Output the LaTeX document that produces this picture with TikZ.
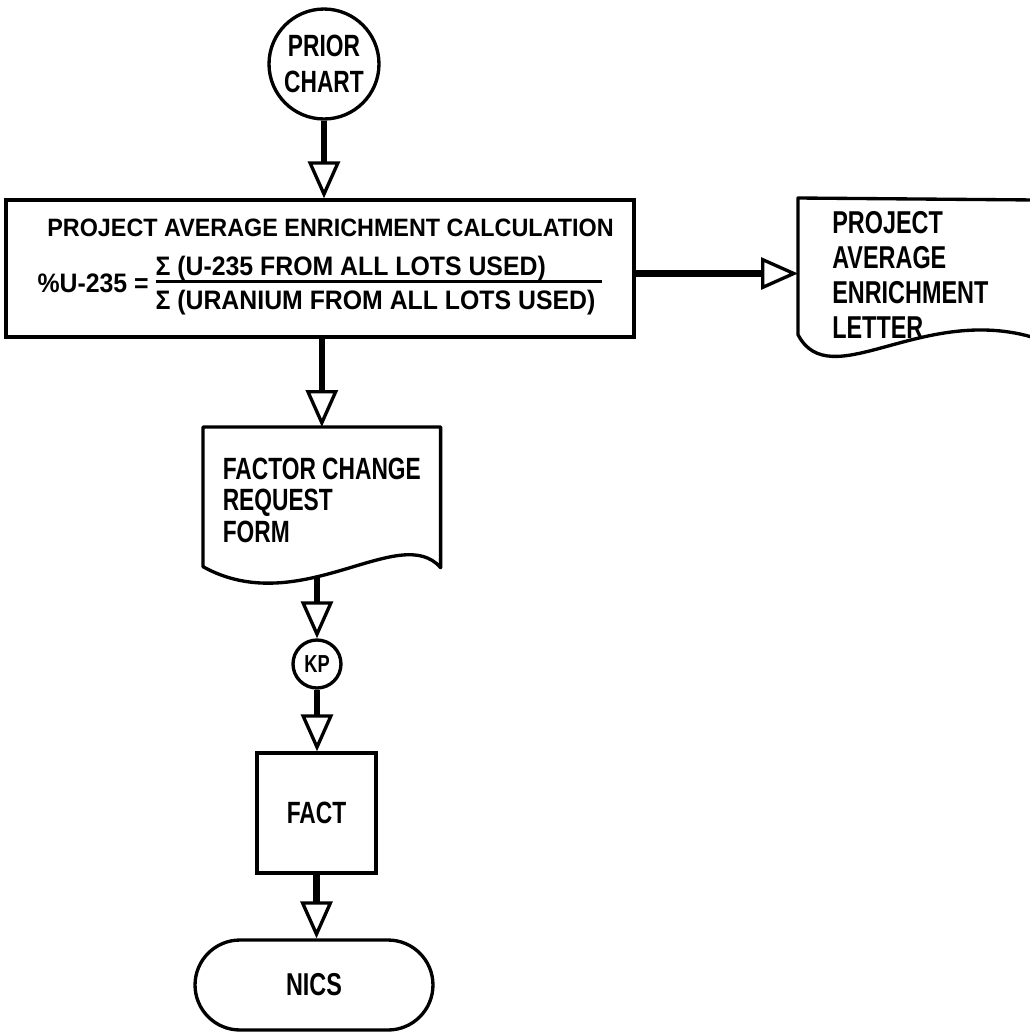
\documentclass[tikz,border=0pt]{standalone}
\usepackage{fontspec}
\setmainfont{Liberation Sans}
\newfontfamily\chartfont{Liberation Sans}[FakeStretch=0.74]
\newfontfamily\calcfont{Liberation Sans}[FakeStretch=0.93]
\usetikzlibrary{arrows.meta,calc}
\setlength{\arrayrulewidth}{1.4pt}

\begin{document}
\begin{tikzpicture}[x=0.02cm, y=-0.02cm,
  box/.style={draw, line width=1.9pt, inner sep=0pt, align=center,
    font=\chartfont\bfseries\fontsize{17.5}{20}\selectfont},
  conn/.style={circle, draw, line width=1.9pt, inner sep=0pt, align=center,
    font=\chartfont\bfseries\fontsize{17.5}{20.4}\selectfont},
  paper/.style={inner sep=0pt, align=left,
    font=\chartfont\bfseries\fontsize{17.5}{18.1}\selectfont},
  sheet/.style={line width=1.9pt, line join=round},
  flow/.style={line width=3.6pt,
    -{Triangle[open, length=0.74cm, width=0.64cm, line width=1.9pt]}}]

\useasboundingbox (0,0) rectangle (1030,1032);

% Start connector
\node[conn, minimum size=2.2cm] (prior) at (324,64) {PRIOR\\CHART};

% Calculation box
\node[box, minimum width=12.56cm, minimum height=2.74cm,
  font=\calcfont\bfseries\fontsize{14.3}{17}\selectfont] (calc) at (320,268.5)
  {\hspace{12pt}PROJECT AVERAGE ENRICHMENT CALCULATION\\[9pt]
   \fontsize{15.2}{18}\selectfont
   \%U-235 = \begin{tabular}[c]{@{}l@{\hspace{4pt}}}Σ (U-235 FROM ALL LOTS USED)\\[-3pt] \hline
   \rule{0pt}{15pt}Σ (URANIUM FROM ALL LOTS USED)\end{tabular}};

% Output documents
\node[paper, minimum width=4.64cm, minimum height=3.08cm, anchor=north west,
  font=\chartfont\bfseries\fontsize{18}{19.9}\selectfont] (letter) at (794,198)
  {PROJECT\\AVERAGE\\ENRICHMENT\\LETTER};
\node[paper, minimum width=4.74cm, minimum height=2.92cm, anchor=north west] (fcr) at (203,427)
  {FACTOR CHANGE\\REQUEST\\FORM};

% Off-page connector, process and terminal
\node[conn, minimum size=0.96cm, font=\chartfont\bfseries\fontsize{14}{14}\selectfont] (kp) at (317,664) {KP};
\node[box, minimum width=2.38cm, minimum height=2.4cm] (fact) at (316.5,813) {FACT};
\node[box, minimum width=4.76cm, minimum height=1.8cm, rounded corners=0.9cm,
  font=\chartfont\bfseries\fontsize{18}{20}\selectfont] (nics) at (314,985) {NICS};

% Document outlines (wavy bottom)
\draw[sheet] ($(letter.north east)+(10,2)$) -- ($(letter.north west)+(4,0)$)
  -- ($(letter.south west)+(4,-18)$)
  .. controls ($(letter.south west)+(36,43)$) and ($(letter.south west)+(126,-47)$)
  .. ($(letter.south east)+(4,-16)$);
\draw[sheet] (fcr.north west) -- (fcr.north east) -- ($(fcr.south east)+(0,-6)$)
  .. controls ($(fcr.south west)+(197,-53)$) and ($(fcr.south west)+(97,47)$)
  .. ($(fcr.south west)+(0,-7)$) -- cycle;

% Flow lines
\draw[flow] (prior.south) -- (prior.south |- calc.north);
\draw[flow] ($(calc.east)+(0,5)$) -- ($(calc.east -| letter.west)+(4,5)$);
\draw[flow] (calc.south -| fcr.north) -- (fcr.north);
\draw[flow] ($(fcr.south -| kp.north)+(0,4)$) -- (kp.north);
\draw[flow] (kp.south) -- (kp.south |- fact.north);
\draw[flow] (fact.south) -- (fact.south |- nics.north);

\end{tikzpicture}
\end{document}
